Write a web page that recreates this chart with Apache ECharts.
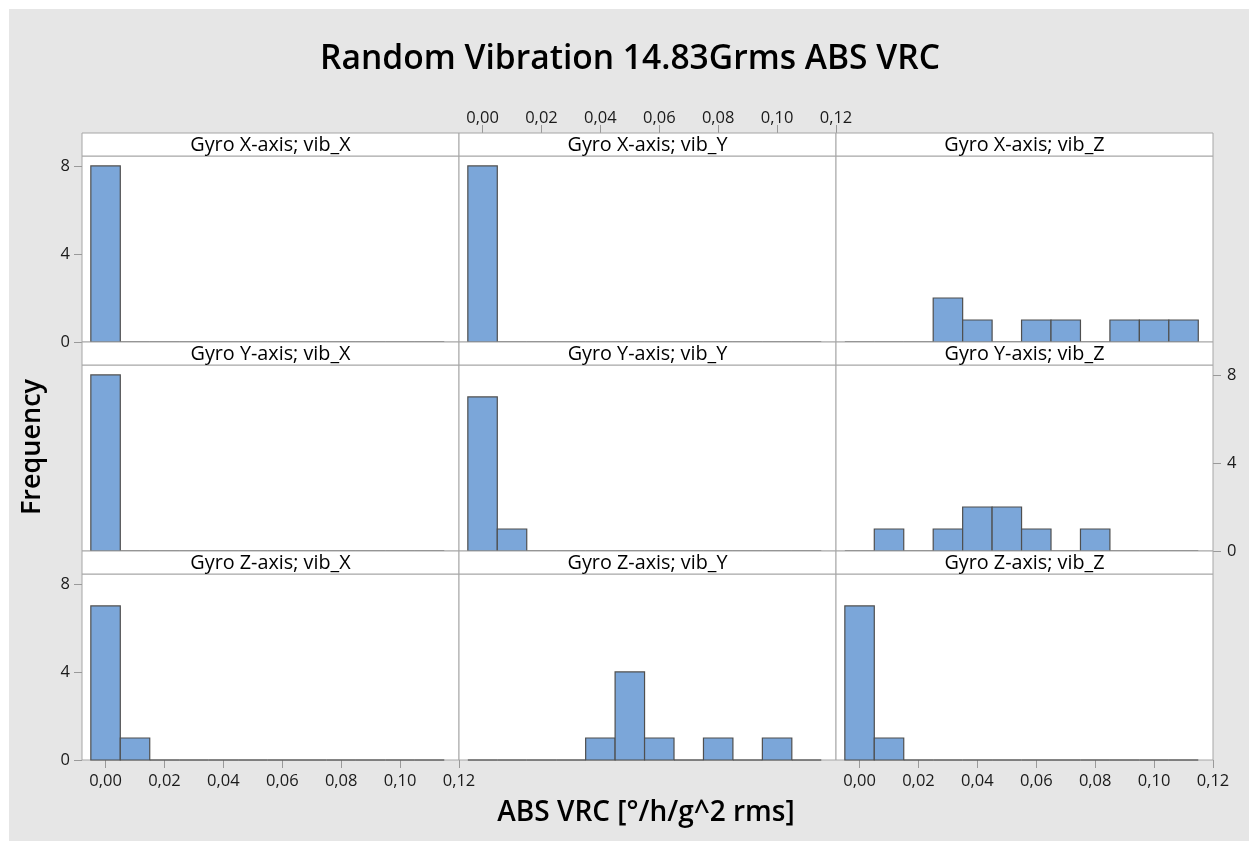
<!DOCTYPE html>
<html>
<head>
<meta charset="utf-8">
<script src="https://cdn.jsdelivr.net/npm/echarts@6/dist/echarts.min.js"></script>
<style>
  html, body { margin: 0; padding: 0; background: #ffffff; }
  #bg { position: absolute; left: 9px; top: 9px; width: 1240px; height: 832px; background: #e6e6e6; }
  #main { position: absolute; left: 0; top: 0; width: 1249px; height: 841px; }
</style>
</head>
<body>
<div id="bg"></div>
<div id="main"></div>
<script>
// ---------- data ----------
const chartTitle = 'Random Vibration 14.83Grms ABS VRC';
const xAxisTitle = 'ABS VRC [°/h/g^2 rms]';
const yAxisTitle = 'Frequency';
const rowLabels = ['Gyro X-axis', 'Gyro Y-axis', 'Gyro Z-axis'];
const colLabels = ['vib_X', 'vib_Y', 'vib_Z'];
const binCenters = [0, 0.01, 0.02, 0.03, 0.04, 0.05, 0.06, 0.07, 0.08, 0.09, 0.10, 0.11];
const binWidth = 0.01;
const xTickValues = [0, 0.02, 0.04, 0.06, 0.08, 0.10, 0.12];
const xTickLabels = ['0,00', '0,02', '0,04', '0,06', '0,08', '0,10', '0,12'];
const yTickValues = [0, 4, 8];

const gyroX_vibX = [8, 0, 0, 0, 0, 0, 0, 0, 0, 0, 0, 0];
const gyroX_vibY = [8, 0, 0, 0, 0, 0, 0, 0, 0, 0, 0, 0];
const gyroX_vibZ = [0, 0, 0, 2, 1, 0, 1, 1, 0, 1, 1, 1];
const gyroY_vibX = [8, 0, 0, 0, 0, 0, 0, 0, 0, 0, 0, 0];
const gyroY_vibY = [7, 1, 0, 0, 0, 0, 0, 0, 0, 0, 0, 0];
const gyroY_vibZ = [0, 1, 0, 1, 2, 2, 1, 0, 1, 0, 0, 0];
const gyroZ_vibX = [7, 1, 0, 0, 0, 0, 0, 0, 0, 0, 0, 0];
const gyroZ_vibY = [0, 0, 0, 0, 1, 4, 1, 0, 1, 0, 1, 0];
const gyroZ_vibZ = [7, 1, 0, 0, 0, 0, 0, 0, 0, 0, 0, 0];

const panelCounts = [
  [gyroX_vibX, gyroX_vibY, gyroX_vibZ],
  [gyroY_vibX, gyroY_vibY, gyroY_vibZ],
  [gyroZ_vibX, gyroZ_vibY, gyroZ_vibZ]
];

// ---------- layout / style ----------
const X_MIN = -0.008, X_MAX = 0.12, Y_MAX = 8.45;
const LEFT0 = 82, COL_W = 377, TOP0 = 133, ROW_H = 209, STRIP_H = 23;
const DATA_H = ROW_H - STRIP_H;
const FONT = '"Open Sans", "Noto Sans", sans-serif';
const FRAME = '#a6a6a6';
const TEXT = '#1a1a1a';
const BAR_FILL = '#7ba6d9';
const BAR_EDGE = '#4f4f4f';
const TICK_FS = 16.5;

const grids = [], xAxes = [], yAxes = [], series = [], graphics = [];

for (let r = 0; r < 3; r++) {
  for (let c = 0; c < 3; c++) {
    const idx = r * 3 + c;
    const left = LEFT0 + c * COL_W;
    const stripTop = TOP0 + r * ROW_H;
    const top = stripTop + STRIP_H;
    grids.push({
      left: left, top: top, width: COL_W, height: DATA_H,
      show: true, backgroundColor: '#ffffff', borderColor: FRAME, borderWidth: 1,
      containLabel: false
    });

    // strip
    graphics.push({
      type: 'rect', z: 5,
      shape: { x: left, y: stripTop, width: COL_W, height: STRIP_H },
      style: { fill: '#ffffff', stroke: FRAME, lineWidth: 1 }
    });
    graphics.push({
      type: 'text', z: 6,
      x: left + COL_W / 2, y: stripTop + STRIP_H / 2 + 1,
      style: {
        text: rowLabels[r] + '; ' + colLabels[c],
        font: '19.8px ' + FONT, fill: '#000', align: 'center', verticalAlign: 'middle'
      }
    });

    const showXBottom = (r === 2 && (c === 0 || c === 2));
    const showXTop = (r === 0 && c === 1);
    const showX = showXBottom || showXTop;
    xAxes.push({
      type: 'value', gridIndex: idx, min: X_MIN, max: X_MAX,
      position: showXTop ? 'top' : 'bottom',
      offset: showXTop ? STRIP_H : 0,
      axisLine: { show: false, onZero: false },
      splitLine: { show: false },
      axisTick: {
        show: showX, inside: false, length: 8,
        customValues: xTickValues,
        lineStyle: { color: '#999999', width: 1 }
      },
      axisLabel: {
        show: showX, margin: showXTop ? 6 : 13,
        customValues: xTickValues,
        color: TEXT, fontSize: TICK_FS, fontFamily: FONT,
        formatter: function (v) {
          const i = xTickValues.findIndex(t => Math.abs(t - v) < 1e-9);
          return i >= 0 ? xTickLabels[i] : '';
        }
      }
    });

    const showYLeft = (c === 0 && (r === 0 || r === 2));
    const showYRight = (c === 2 && r === 1);
    const showY = showYLeft || showYRight;
    yAxes.push({
      type: 'value', gridIndex: idx, min: 0, max: Y_MAX,
      position: showYRight ? 'right' : 'left',
      axisLine: { show: false, onZero: false },
      splitLine: { show: false },
      axisTick: {
        show: showY, inside: false, length: 8,
        customValues: yTickValues,
        lineStyle: { color: '#999999', width: 1 }
      },
      axisLabel: {
        show: showY, margin: showYRight ? 14 : 12,
        customValues: yTickValues,
        color: TEXT, fontSize: TICK_FS, fontFamily: FONT
      }
    });

    const counts = panelCounts[r][c];
    series.push({
      type: 'custom',
      xAxisIndex: idx, yAxisIndex: idx,
      clip: false,
      encode: { x: 0, y: 1 },
      data: binCenters.map((x, i) => [x, counts[i]]),
      renderItem: function (params, api) {
        const x = api.value(0), v = api.value(1);
        const p0 = api.coord([x - binWidth / 2, 0]);
        const p1 = api.coord([x + binWidth / 2, v]);
        if (v <= 0) {
          return {
            type: 'line',
            shape: { x1: p0[0], y1: p0[1], x2: p1[0], y2: p0[1] },
            style: { stroke: BAR_EDGE, lineWidth: 1.2 }
          };
        }
        return {
          type: 'rect',
          shape: { x: p0[0], y: p1[1], width: p1[0] - p0[0], height: p0[1] - p1[1] },
          style: { fill: BAR_FILL, stroke: BAR_EDGE, lineWidth: 1.2 }
        };
      }
    });
  }
}

// titles
graphics.push({
  type: 'text', x: 630, y: 59,
  style: { text: chartTitle, font: '600 33.6px ' + FONT, fill: '#000', align: 'center', verticalAlign: 'middle' }
});
graphics.push({
  type: 'text', x: 32, y: 447, rotation: Math.PI / 2,
  style: { text: yAxisTitle, font: '600 27px ' + FONT, fill: '#000', align: 'center', verticalAlign: 'middle' }
});
graphics.push({
  type: 'text', x: 646, y: 813,
  style: { text: xAxisTitle, font: '600 28px ' + FONT, fill: '#000', align: 'center', verticalAlign: 'middle' }
});

const chart = echarts.init(document.getElementById('main'), null, { renderer: 'canvas' });
chart.setOption({
  backgroundColor: 'transparent',
  animation: false,
  grid: grids,
  xAxis: xAxes,
  yAxis: yAxes,
  series: series,
  graphic: graphics
});
</script>
</body>
</html>
